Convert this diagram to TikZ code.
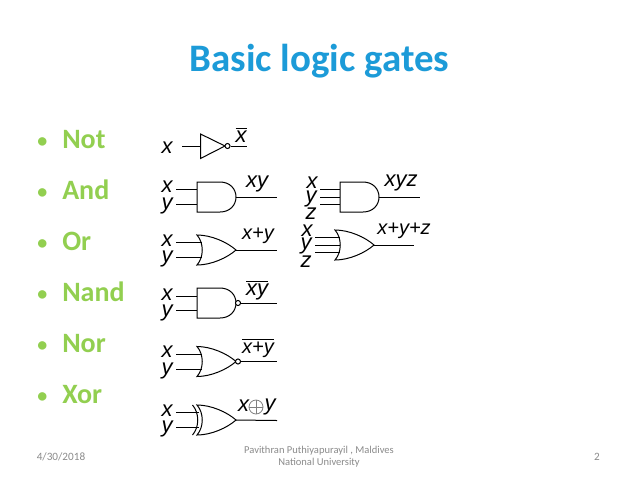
\documentclass[tikz,border=0pt]{standalone}
\usepackage{fontspec}
\setmainfont{Carlito}
\newfontfamily\lblfont{Liberation Sans}
\definecolor{titleblue}{HTML}{1C9BD8}
\definecolor{bulletgreen}{HTML}{92CF50}
\definecolor{footgray}{HTML}{8B8B8B}
\newcommand{\ov}[1]{$\overline{\mbox{#1}}$}
\tikzset{
  x=0.75pt,y=-0.75pt,
  wire/.style={line width=0.75pt,black},
  gateline/.style={line width=0.75pt,black,fill=white},
  lbl/.style={font=\lblfont\itshape\fontsize{16.5pt}{16.5pt}\selectfont,inner sep=0pt,text=black},
  olbl/.style={font=\lblfont\itshape\fontsize{15pt}{15pt}\selectfont,inner sep=0pt,text=black},
  bul/.style={font=\bfseries\fontsize{21pt}{21pt}\selectfont,text=bulletgreen,anchor=base west,inner sep=0pt},
  buld/.style={font=\bfseries\fontsize{15pt}{15pt}\selectfont,text=bulletgreen,anchor=base west,inner sep=0pt},
  foot/.style={font=\fontsize{7.9pt}{9.2pt}\selectfont,text=footgray,inner sep=0pt,align=center},
  footd/.style={font=\fontsize{8.4pt}{10pt}\selectfont,text=footgray,inner sep=0pt},
  bubble/.style={circle,draw,line width=0.75pt,fill=white,inner sep=0pt,minimum size=3.8pt},
  andshape/.pic={
    \draw[gateline] (0,-15) -- (23,-15) .. controls (33,-15) and (39,-8) .. (39,0) .. controls (39,8) and (33,15) .. (23,15) -- (0,15) -- cycle;
    \coordinate (-out) at (39,0);
  },
  orshape/.pic={
    \draw[gateline] (0,-15) .. controls (14,-15) and (30,-8) .. (39,0) .. controls (30,8) and (14,15) .. (0,15) .. controls (7,7) and (7,-7) .. (0,-15) -- cycle;
    \coordinate (-out) at (39,0);
  }
}
\begin{document}
\begin{tikzpicture}
\useasboundingbox (0,0) rectangle (638,479);
\fill[white] (0,0) rectangle (638,479);
\node[font=\bfseries\fontsize{29.2pt}{29.2pt}\selectfont,text=titleblue,inner sep=0pt] (title) at (319.5,61) {Basic logic gates};
% bullets
\foreach \n/\t/\y in {b1/Not/148,b2/And/199,b3/Or/250,b4/Nand/301,b5/Nor/352,b6/Xor/403}{
  \node[bul] (\n) at (62,\y) {\t};
  \node[buld] (\n d) at (37,\y-1) {•};
}
% NOT
\draw[gateline] (200.5,134) -- (225,146) -- (200.5,158.5) -- cycle;
\node[bubble] (notb) at (227.5,146) {};
\coordinate (notin) at (200.5,146);
\coordinate (notia) at (182,146);
\coordinate (notob) at (246.5,146);
\draw[wire] (notia) -- (notin);
\draw[wire] (notb) -- (notob);
\node[lbl] (lx0) at (167,148) {x};
\node[lbl,anchor=base] (o0) at (241,142) {\ov{x}};
% AND
\pic (a) at (197,197) {andshape};
\coordinate (ai1) at (176,189.5); \coordinate (ai2) at (176,204.5);
\coordinate (ae1) at (197,189.5); \coordinate (ae2) at (197,204.5);
\coordinate (ao) at (277,197);
\draw[wire] (ai1) -- (ae1); \draw[wire] (ai2) -- (ae2); \draw[wire] (a-out) -- (ao);
\node[lbl] (lx1) at (167,187) {x}; \node[lbl] (ly1) at (167,206) {y};
\node[lbl] (o1) at (257,184) {xy};
% OR
\pic (o) at (197,250) {orshape};
\coordinate (oi1) at (176,242.5); \coordinate (oi2) at (176,257.5);
\coordinate (oe1) at (202,242.5); \coordinate (oe2) at (202,257.5);
\coordinate (oo) at (277,250);
\draw[wire] (oi1) -- (oe1); \draw[wire] (oi2) -- (oe2); \draw[wire] (o-out) -- (oo);
\node[lbl] (lx2) at (167,241) {x}; \node[lbl] (ly2) at (167,259) {y};
\node[olbl] (o2) at (258,236) {x+y};
% NAND
\pic (na) at (197,303) {andshape};
\node[bubble] (nab) at (238,303) {};
\coordinate (nai1) at (176,296); \coordinate (nai2) at (176,310);
\coordinate (nae1) at (197,296); \coordinate (nae2) at (197,310);
\coordinate (nao) at (277,303);
\draw[wire] (nai1) -- (nae1); \draw[wire] (nai2) -- (nae2); \draw[wire] (nab) -- (nao);
\node[lbl] (lx3) at (167,295) {x}; \node[lbl] (ly3) at (167,313) {y};
\node[lbl,anchor=base] (o3) at (257,295) {\ov{xy}};
% NOR
\pic (no) at (197,361.5) {orshape};
\node[bubble] (nob) at (238,361.5) {};
\coordinate (noi1) at (176,354); \coordinate (noi2) at (176,369);
\coordinate (noe1) at (202,354); \coordinate (noe2) at (202,369);
\coordinate (noo) at (277,361.5);
\draw[wire] (noi1) -- (noe1); \draw[wire] (noi2) -- (noe2); \draw[wire] (nob) -- (noo);
\node[lbl] (lx4) at (167,352) {x}; \node[lbl] (ly4) at (167,371) {y};
\node[olbl,anchor=base] (o4) at (258,353) {\ov{x+y}};
% XOR
\pic (xo) at (197,420) {orshape};
\draw[wire] (192.5,405) .. controls (199.5,413) and (199.5,427) .. (192.5,435);
\coordinate (xi1) at (176,412); \coordinate (xi2) at (176,427);
\coordinate (xe1) at (199,412); \coordinate (xe2) at (199,427);
\coordinate (xoo) at (277,420.5);
\draw[wire] (xi1) -- (xe1); \draw[wire] (xi2) -- (xe2); \draw[wire] (xo-out) -- (xoo);
\node[lbl] (lx5) at (167,411) {x}; \node[lbl] (ly5) at (167,429) {y};
\node[lbl] (o5a) at (243.5,406) {x};
\node[circle,draw=gray,line width=0.6pt,minimum size=10.5pt,inner sep=0pt] (o5c) at (256,407) {};
\draw[gray,line width=0.6pt] (o5c.north) -- (o5c.south);
\draw[gray,line width=0.6pt] (o5c.west) -- (o5c.east);
\node[lbl] (o5b) at (270,407) {y};
% AND3
\pic (a3) at (340,197) {andshape};
\foreach \i/\y in {1/189,2/197,3/204}{
  \coordinate (a3i\i) at (320,\y); \coordinate (a3e\i) at (340,\y);
  \draw[wire] (a3i\i) -- (a3e\i);
}
\coordinate (a3o) at (420,197);
\draw[wire] (a3-out) -- (a3o);
\node[lbl] (lx6) at (312,183) {x}; \node[lbl] (ly6) at (311,199) {y}; \node[lbl] (lz6) at (311,214) {z};
\node[lbl] (o6) at (401,183) {xyz};
% OR3
\pic (o3g) at (335,245) {orshape};
\foreach \i/\y in {1/237,2/245,3/252}{
  \coordinate (o3i\i) at (315,\y); \coordinate (o3e\i) at (340,\y);
  \draw[wire] (o3i\i) -- (o3e\i);
}
\coordinate (o3o) at (414,245);
\draw[wire] (o3g-out) -- (o3o);
\node[lbl] (lx7) at (307,231) {x}; \node[lbl] (ly7) at (306,246) {y}; \node[lbl] (lz7) at (306,262) {z};
\node[olbl] (o7) at (404,231) {x+y+z};
% footer
\node[footd] (fd) at (61,457) {4/30/2018};
\node[foot] (fm) at (319,457) {Pavithran Puthiyapurayil , Maldives\\National University};
\node[footd] (fn) at (597,457) {2};
\end{tikzpicture}
\end{document}
